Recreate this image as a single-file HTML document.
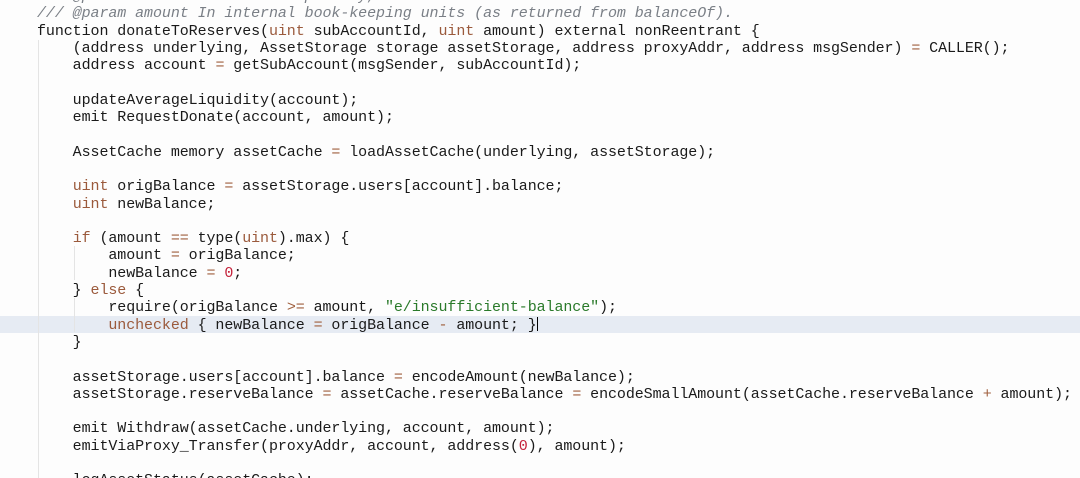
<!DOCTYPE html>
<html><head><meta charset="utf-8"><style>
html,body{margin:0;padding:0;background:#fdfdfd;width:1080px;height:478px;overflow:hidden;position:relative}
pre{position:absolute;left:37px;top:-12px;margin:0;font-family:"Liberation Mono","DejaVu Sans Mono",monospace;font-size:15px;letter-spacing:-0.08px;line-height:17.3px;color:#1a1a1a;white-space:pre}
.c{color:#7a7f86;font-style:italic}
.k{color:#9b5a3c}
.o{color:#a0603e}
.n{color:#c4213a}
.s{color:#2a7a2a}
.hl{position:absolute;left:0;width:1080px;top:316px;height:17.3px;background:#e6ebf3}
.g{position:absolute;width:1px;background:#e4e4e4}
.cur{display:inline-block;width:1px;height:14px;background:#000;vertical-align:-2px;line-height:0}
</style></head><body>
<div class="hl"></div>
<div class="g" style="left:38px;top:40px;height:440px"></div>
<div class="g" style="left:74px;top:246px;height:34px"></div>
<div class="g" style="left:74px;top:298px;height:34px"></div>
<pre><span class="c">/// @param subAccountId 0 for primary, 1-255 for a sub-account</span>
<span class="c">/// @param amount In internal book-keeping units (as returned from balanceOf).</span>
function donateToReserves(<span class="k">uint</span> subAccountId, <span class="k">uint</span> amount) external nonReentrant {
    (address underlying, AssetStorage storage assetStorage, address proxyAddr, address msgSender) <span class="o">=</span> CALLER();
    address account <span class="o">=</span> getSubAccount(msgSender, subAccountId);

    updateAverageLiquidity(account);
    emit RequestDonate(account, amount);

    AssetCache memory assetCache <span class="o">=</span> loadAssetCache(underlying, assetStorage);

    <span class="k">uint</span> origBalance <span class="o">=</span> assetStorage.users[account].balance;
    <span class="k">uint</span> newBalance;

    <span class="k">if</span> (amount <span class="o">==</span> type(<span class="k">uint</span>).max) {
        amount <span class="o">=</span> origBalance;
        newBalance <span class="o">=</span> <span class="n">0</span>;
    } <span class="k">else</span> {
        require(origBalance <span class="o">&gt;=</span> amount, <span class="s">"e/insufficient-balance"</span>);
        <span class="k">unchecked</span> { newBalance <span class="o">=</span> origBalance <span class="o">-</span> amount; }<span class="cur"></span>
    }

    assetStorage.users[account].balance <span class="o">=</span> encodeAmount(newBalance);
    assetStorage.reserveBalance <span class="o">=</span> assetCache.reserveBalance <span class="o">=</span> encodeSmallAmount(assetCache.reserveBalance <span class="o">+</span> amount);

    emit Withdraw(assetCache.underlying, account, amount);
    emitViaProxy_Transfer(proxyAddr, account, address(<span class="n">0</span>), amount);

    logAssetStatus(assetCache);
</pre>
</body></html>
